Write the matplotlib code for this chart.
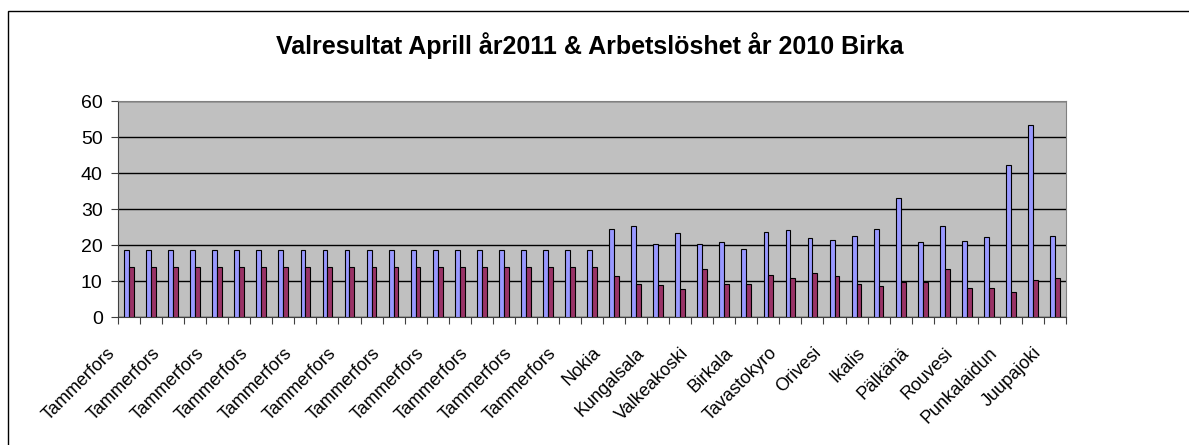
import matplotlib
matplotlib.use("Agg")
import matplotlib.pyplot as plt
from matplotlib.patches import Rectangle
from matplotlib.transforms import ScaledTranslation
import numpy as np

plt.rcParams['font.family'] = ['Liberation Sans', 'DejaVu Sans']

title = "Valresultat Aprill år2011 & Arbetslöshet år 2010 Birka"

# 43 categories; Excel shows every other label
category_labels = ["Tammerfors", "", "Tammerfors", "", "Tammerfors", "", "Tammerfors", "",
                   "Tammerfors", "", "Tammerfors", "", "Tammerfors", "", "Tammerfors", "",
                   "Tammerfors", "", "Tammerfors", "", "Tammerfors", "",
                   "Nokia", "", "Kungalsala", "", "Valkeakoski", "", "Birkala", "",
                   "Tavastokyro", "", "Orivesi", "", "Ikalis", "", "Pälkänä", "",
                   "Rouvesi", "", "Punkalaidun", "", "Juupajoki"]

valresultat = [18.5, 18.5, 18.5, 18.5, 18.5, 18.5, 18.5, 18.5, 18.5, 18.5, 18.5,
               18.5, 18.5, 18.5, 18.5, 18.5, 18.5, 18.5, 18.5, 18.5, 18.5, 18.5,
               24.5, 25.2, 20.4, 23.4, 20.4, 20.8, 18.9, 23.6, 24.1, 21.9, 21.4,
               22.6, 24.4, 33.0, 20.7, 25.2, 21.1, 22.2, 42.1, 53.3, 22.6]
arbetsloshet = [14.0, 14.0, 14.0, 14.0, 14.0, 14.0, 14.0, 14.0, 14.0, 14.0, 14.0,
                14.0, 14.0, 14.0, 14.0, 14.0, 14.0, 14.0, 14.0, 14.0, 14.0, 14.0,
                11.4, 9.2, 8.8, 7.8, 13.3, 9.2, 9.2, 11.8, 10.7, 12.2, 11.5,
                9.3, 8.5, 9.7, 9.7, 13.3, 8.1, 8.1, 7.0, 10.4, 10.7]

yticks = [0, 10, 20, 30, 40, 50, 60]

W, H = 1189, 445
fig = plt.figure(figsize=(W / 100, H / 100), dpi=100)

# outer chart border (left and top visible)
fig.patches.append(Rectangle((8 / W, -0.5), 1.5, (H - 11) / H + 0.5,
                             transform=fig.transFigure, fill=False,
                             edgecolor='black', linewidth=1.0, zorder=0))

ax = fig.add_axes([118 / W, (H - 317) / H, 948 / W, 216 / H])
ax.set_facecolor('#C0C0C0')

n = len(valresultat)
x = np.arange(n)
w = 0.22
ax.bar(x - w / 2, valresultat, width=w, color='#9999FF', edgecolor='black',
       linewidth=0.8, zorder=3)
ax.bar(x + w / 2, arbetsloshet, width=w, color='#993366', edgecolor='black',
       linewidth=0.8, zorder=3)

ax.set_xlim(-0.5, n - 0.5)
ax.set_ylim(0, 60)
ax.set_yticks(yticks)
ax.set_yticklabels([str(t) for t in yticks], fontsize=14)
ax.yaxis.grid(True, color='black', linewidth=1.0, zorder=1)
ax.set_axisbelow(True)

# ticks at category boundaries, labels on every other category
ax.set_xticks(np.arange(-0.5, n, 1.0))
ax.set_xticklabels([])
ax.tick_params(axis='x', which='major', length=5, width=0.8, color='#404040')
ax.tick_params(axis='y', which='major', length=5, width=0.8, color='#404040', pad=6)
lab_pos = [i for i in range(n) if category_labels[i]]
ax.set_xticks(lab_pos, minor=True)
ax.set_xticklabels([category_labels[i] for i in lab_pos], minor=True,
                   rotation=45, ha='right', va='center', rotation_mode='anchor',
                   fontsize=13)
ax.tick_params(axis='x', which='minor', length=0, pad=24)
shift = ScaledTranslation(-16 / 100, 0, fig.dpi_scale_trans)
for lab in ax.get_xticklabels(minor=True):
    lab.set_transform(lab.get_transform() + shift)

for s in ['top', 'right']:
    ax.spines[s].set_color('#808080')
for s in ['left', 'bottom']:
    ax.spines[s].set_color('#404040')

fig.text(590 / W, 1 - 46 / H, title, ha='center', va='center',
         fontsize=18, fontweight='bold')

fig.savefig('out.png', dpi=100)
